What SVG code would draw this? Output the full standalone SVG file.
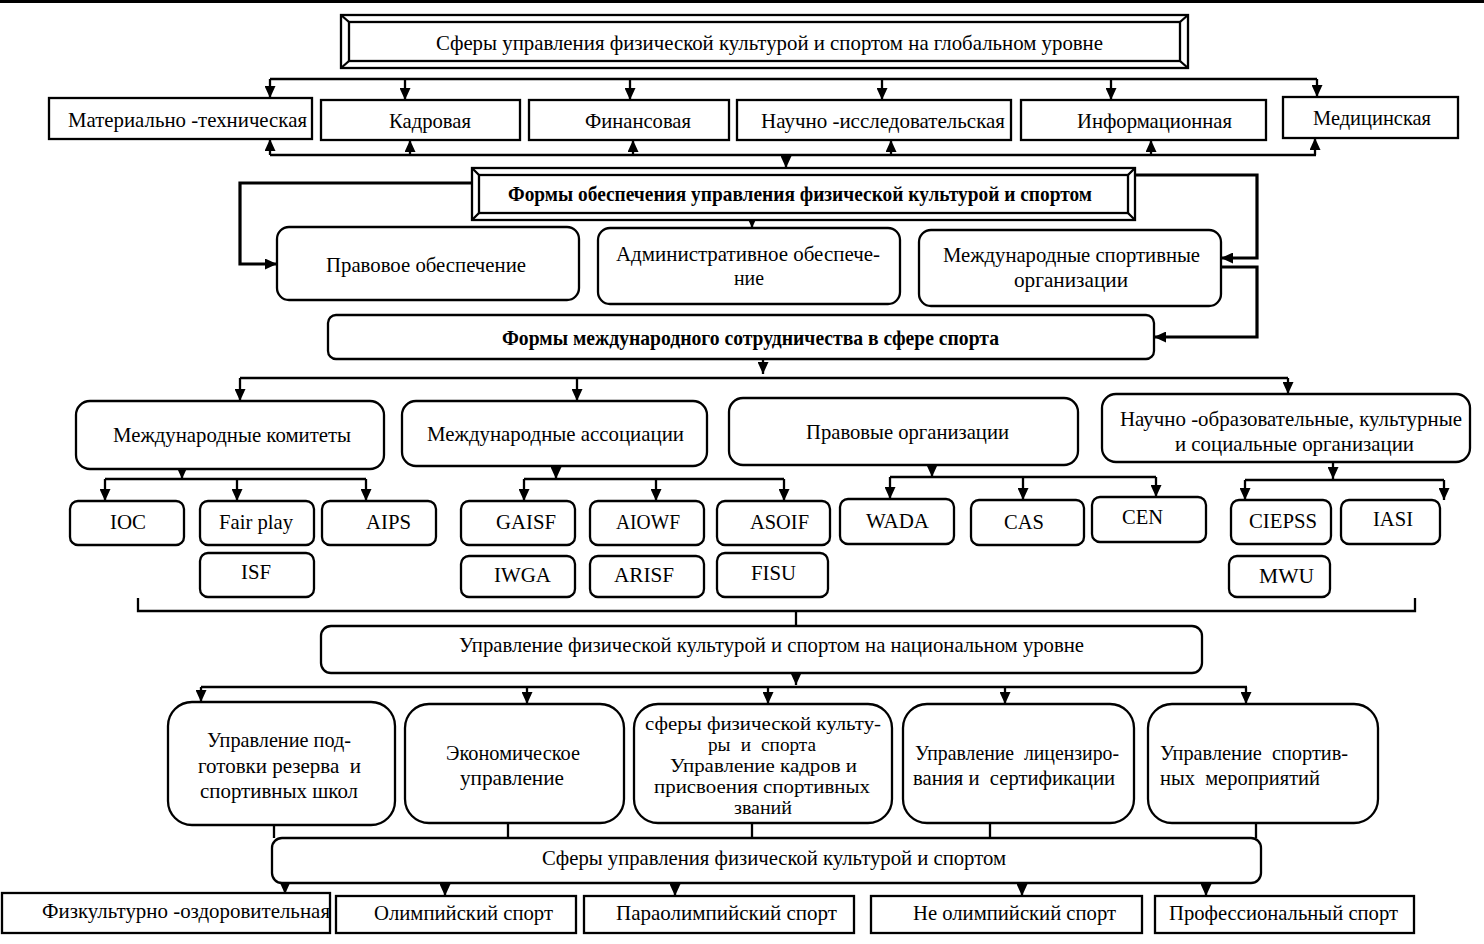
<svg xmlns="http://www.w3.org/2000/svg" width="1484" height="944" viewBox="0 0 1484 944">
<style>
.b{fill:#fff;stroke:#000;stroke-width:2.3}
.t{font-family:"Liberation Serif","Times New Roman",serif;font-size:21px;fill:#000}
.s{font-size:18px}
.bo{font-weight:bold}
.c{fill:none;stroke:#000;stroke-width:2.3}
.k{stroke-width:3.2}
.a{marker-end:url(#ar)}
</style>
<defs>
<marker id="ar" viewBox="0 0 12 11" refX="12" refY="5.5" markerWidth="12" markerHeight="11" markerUnits="userSpaceOnUse" orient="auto">
<path d="M0,0 L12,5.5 L0,11 z" fill="#000"/>
</marker>
</defs>
<rect width="1484" height="944" fill="#fff"/>
<line x1="0" y1="1.5" x2="1484" y2="1.5" stroke="#000" stroke-width="3"/>

<g id="connectors">
<path class="c" d="M270,79 H1317"/>
<path class="c a" d="M270,79 V98"/>
<path class="c a" d="M405,79 V100"/>
<path class="c a" d="M630,79 V100"/>
<path class="c a" d="M882,79 V100"/>
<path class="c a" d="M1111,79 V100"/>
<path class="c a" d="M1317,79 V97"/>
<path class="c" d="M270,155 H1316"/>
<path class="c a" d="M270,155 V139"/>
<path class="c a" d="M410,155 V140"/>
<path class="c a" d="M633,155 V140"/>
<path class="c a" d="M891,155 V140"/>
<path class="c a" d="M1151,155 V140"/>
<path class="c a" d="M1315,155 V138"/>
<path class="c a" d="M786,155 V168"/>
<path class="c k a" d="M472,183 H240 V264 H277"/>
<path class="c k a" d="M1065,175 H1257 V258 H1221"/>
<path class="c k a" d="M1221,267 H1257 V337 H1154"/>
<path class="c a" d="M752,218 V228"/>
<path class="c a" d="M763,359 V374"/>
<path class="c" d="M240,378 H1288"/>
<path class="c a" d="M240,378 V401"/>
<path class="c a" d="M577,378 V401"/>
<path class="c a" d="M1288,378 V394"/>
<path class="c a" d="M182,469 V479"/>
<path class="c" d="M105,479 H366"/>
<path class="c a" d="M105,479 V501"/>
<path class="c a" d="M237,479 V501"/>
<path class="c a" d="M366,479 V501"/>
<path class="c a" d="M556,466 V479"/>
<path class="c" d="M524,479 H784"/>
<path class="c a" d="M524,479 V501"/>
<path class="c a" d="M656,479 V501"/>
<path class="c a" d="M784,479 V501"/>
<path class="c a" d="M932,465 V477"/>
<path class="c" d="M890,477 H1156"/>
<path class="c a" d="M890,477 V499"/>
<path class="c a" d="M1023,477 V500"/>
<path class="c a" d="M1156,477 V497"/>
<path class="c a" d="M1333,462 V479"/>
<path class="c" d="M1245,480 H1444"/>
<path class="c a" d="M1245,480 V500"/>
<path class="c a" d="M1444,480 V500"/>
<path class="c" d="M138,598 V611 H1415 V598"/>
<path class="c" d="M796,611 V626"/>
<path class="c a" d="M796,673 V685"/>
<path class="c" d="M201,687 H1247"/>
<path class="c a" d="M201,687 V702"/>
<path class="c a" d="M527,687 V704"/>
<path class="c a" d="M768,687 V704"/>
<path class="c a" d="M1005,687 V704"/>
<path class="c a" d="M1246,687 V704"/>
<path class="c" d="M274,825 V838 M508,823 V838 M752,823 V838 M990,823 V838 M1256,823 V838"/>
<path class="c a" d="M285,883 V894"/>
<path class="c a" d="M445,883 V896"/>
<path class="c a" d="M675,883 V896"/>
<path class="c a" d="M1022,883 V896"/>
<path class="c a" d="M1206,883 V896"/>
</g>

<g id="global">
<rect class="b" x="341" y="15" width="847" height="53"/>
<rect class="b" x="349" y="22" width="831" height="39"/>
<path class="c" d="M341,15 L349,22 M1188,15 L1180,22 M341,68 L349,61 M1188,68 L1180,61"/>
<text class="t" x="436" y="50" textLength="667" lengthAdjust="spacingAndGlyphs">Сферы управления физической культурой и спортом на глобальном уровне</text>
</g>

<g id="material">
<rect class="b" x="49" y="98" width="263" height="41"/>
<text class="t" x="68" y="127" textLength="239" lengthAdjust="spacingAndGlyphs">Материально -техническая</text>
</g>
<g id="kadr">
<rect class="b" x="321" y="100" width="199" height="40"/>
<text class="t" x="389" y="128" textLength="82" lengthAdjust="spacingAndGlyphs">Кадровая</text>
</g>
<g id="fin">
<rect class="b" x="529" y="100" width="200" height="40"/>
<text class="t" x="585" y="128" textLength="106" lengthAdjust="spacingAndGlyphs">Финансовая</text>
</g>
<g id="nauch">
<rect class="b" x="737" y="100" width="274" height="40"/>
<text class="t" x="761" y="128" textLength="244" lengthAdjust="spacingAndGlyphs">Научно -исследовательская</text>
</g>
<g id="inform">
<rect class="b" x="1021" y="100" width="245" height="40"/>
<text class="t" x="1077" y="128" textLength="155" lengthAdjust="spacingAndGlyphs">Информационная</text>
</g>
<g id="med">
<rect class="b" x="1283" y="97" width="175" height="41"/>
<text class="t" x="1313" y="125" textLength="118" lengthAdjust="spacingAndGlyphs">Медицинская</text>
</g>

<g id="forms">
<rect class="b" x="472" y="168" width="663" height="52"/>
<rect class="b" x="479" y="175" width="649" height="38"/>
<path class="c" d="M472,168 L479,175 M1135,168 L1128,175 M472,220 L479,213 M1135,220 L1128,213"/>
<text class="t bo" x="508" y="201" textLength="584" lengthAdjust="spacingAndGlyphs">Формы обеспечения управления физической культурой и спортом</text>
</g>

<g id="pravo">
<rect class="b" x="277" y="227" width="302" height="73" rx="12"/>
<text class="t" x="326" y="272" textLength="200" lengthAdjust="spacingAndGlyphs">Правовое обеспечение</text>
</g>
<g id="admin">
<rect class="b" x="598" y="228" width="302" height="76" rx="12"/>
<text class="t" x="616" y="261" textLength="264" lengthAdjust="spacingAndGlyphs">Административное обеспече-</text>
<text class="t" x="734" y="285" textLength="30" lengthAdjust="spacingAndGlyphs">ние</text>
</g>
<g id="mso">
<rect class="b" x="919" y="230" width="302" height="76" rx="12"/>
<text class="t" x="943" y="262" textLength="257" lengthAdjust="spacingAndGlyphs">Международные спортивные</text>
<text class="t" x="1014" y="287" textLength="114" lengthAdjust="spacingAndGlyphs">организации</text>
</g>

<g id="coop">
<rect class="b" x="328" y="315" width="826" height="44" rx="8"/>
<text class="t bo" x="502" y="345" textLength="497" lengthAdjust="spacingAndGlyphs">Формы международного сотрудничества в сфере спорта</text>
</g>

<g id="committees">
<rect class="b" x="76" y="401" width="308" height="68" rx="14"/>
<text class="t" x="113" y="442" textLength="238" lengthAdjust="spacingAndGlyphs">Международные комитеты</text>
</g>
<g id="assoc">
<rect class="b" x="402" y="401" width="305" height="65" rx="14"/>
<text class="t" x="427" y="441" textLength="257" lengthAdjust="spacingAndGlyphs">Международные ассоциации</text>
</g>
<g id="legal">
<rect class="b" x="729" y="398" width="349" height="67" rx="14"/>
<text class="t" x="806" y="439" textLength="203" lengthAdjust="spacingAndGlyphs">Правовые организации</text>
</g>
<g id="science">
<rect class="b" x="1102" y="394" width="368" height="68" rx="14"/>
<text class="t" x="1120" y="426" textLength="342" lengthAdjust="spacingAndGlyphs">Научно -образовательные, культурные</text>
<text class="t" x="1175" y="451" textLength="239" lengthAdjust="spacingAndGlyphs">и социальные организации</text>
</g>

<g id="ioc"><rect class="b" x="70" y="501" width="114" height="44" rx="8"/><text class="t" x="110" y="529" textLength="36" lengthAdjust="spacingAndGlyphs">IOC</text></g>
<g id="fairplay"><rect class="b" x="200" y="501" width="114" height="44" rx="8"/><text class="t" x="219" y="529" textLength="74" lengthAdjust="spacingAndGlyphs">Fair play</text></g>
<g id="aips"><rect class="b" x="322" y="501" width="114" height="44" rx="8"/><text class="t" x="366" y="529" textLength="45" lengthAdjust="spacingAndGlyphs">AIPS</text></g>
<g id="isf"><rect class="b" x="200" y="553" width="114" height="44" rx="8"/><text class="t" x="241" y="579" textLength="30" lengthAdjust="spacingAndGlyphs">ISF</text></g>
<g id="gaisf"><rect class="b" x="461" y="501" width="114" height="44" rx="8"/><text class="t" x="496" y="529" textLength="60" lengthAdjust="spacingAndGlyphs">GAISF</text></g>
<g id="aiowf"><rect class="b" x="590" y="501" width="114" height="44" rx="8"/><text class="t" x="616" y="529" textLength="64" lengthAdjust="spacingAndGlyphs">AIOWF</text></g>
<g id="asoif"><rect class="b" x="717" y="501" width="113" height="44" rx="8"/><text class="t" x="750" y="529" textLength="59" lengthAdjust="spacingAndGlyphs">ASOIF</text></g>
<g id="iwga"><rect class="b" x="461" y="556" width="114" height="41" rx="8"/><text class="t" x="494" y="582" textLength="57" lengthAdjust="spacingAndGlyphs">IWGA</text></g>
<g id="arisf"><rect class="b" x="590" y="556" width="114" height="41" rx="8"/><text class="t" x="614" y="582" textLength="60" lengthAdjust="spacingAndGlyphs">ARISF</text></g>
<g id="fisu"><rect class="b" x="717" y="553" width="111" height="44" rx="8"/><text class="t" x="751" y="580" textLength="45" lengthAdjust="spacingAndGlyphs">FISU</text></g>
<g id="wada"><rect class="b" x="840" y="499" width="114" height="45" rx="8"/><text class="t" x="866" y="528" textLength="63" lengthAdjust="spacingAndGlyphs">WADA</text></g>
<g id="cas"><rect class="b" x="971" y="500" width="113" height="45" rx="8"/><text class="t" x="1004" y="529" textLength="40" lengthAdjust="spacingAndGlyphs">CAS</text></g>
<g id="cen"><rect class="b" x="1092" y="497" width="114" height="45" rx="8"/><text class="t" x="1122" y="524" textLength="41" lengthAdjust="spacingAndGlyphs">CEN</text></g>
<g id="ciepss"><rect class="b" x="1231" y="500" width="100" height="44" rx="8"/><text class="t" x="1249" y="528" textLength="68" lengthAdjust="spacingAndGlyphs">CIEPSS</text></g>
<g id="iasi"><rect class="b" x="1341" y="500" width="99" height="44" rx="8"/><text class="t" x="1373" y="526" textLength="40" lengthAdjust="spacingAndGlyphs">IASI</text></g>
<g id="mwu"><rect class="b" x="1229" y="556" width="101" height="41" rx="8"/><text class="t" x="1259" y="583" textLength="55" lengthAdjust="spacingAndGlyphs">MWU</text></g>

<g id="national">
<rect class="b" x="321" y="626" width="881" height="47" rx="10"/>
<text class="t" x="459" y="652" textLength="625" lengthAdjust="spacingAndGlyphs">Управление физической культурой и спортом на национальном уровне</text>
</g>

<g id="reserve">
<rect class="b" x="168" y="702" width="227" height="123" rx="24"/>
<text class="t" x="207" y="747" textLength="144" lengthAdjust="spacingAndGlyphs">Управление под-</text>
<text class="t" x="198" y="773" textLength="163" lengthAdjust="spacingAndGlyphs" xml:space="preserve">готовки резерва  и</text>
<text class="t" x="200" y="798" textLength="158" lengthAdjust="spacingAndGlyphs">спортивных школ</text>
</g>
<g id="econ">
<rect class="b" x="405" y="704" width="219" height="119" rx="24"/>
<text class="t" x="446" y="760" textLength="134" lengthAdjust="spacingAndGlyphs">Экономическое</text>
<text class="t" x="460" y="785" textLength="104" lengthAdjust="spacingAndGlyphs">управление</text>
</g>
<g id="personnel">
<rect class="b" x="634" y="704" width="258" height="119" rx="24"/>
<text class="t s" x="645" y="730" textLength="236" lengthAdjust="spacingAndGlyphs">сферы физической культу-</text>
<text class="t s" x="708" y="751" word-spacing="5" textLength="108" lengthAdjust="spacingAndGlyphs">ры и спорта</text>
<text class="t s" x="670" y="772" textLength="187" lengthAdjust="spacingAndGlyphs">Управление кадров и</text>
<text class="t s" x="654" y="793" textLength="216" lengthAdjust="spacingAndGlyphs">присвоения спортивных</text>
<text class="t s" x="734" y="814" textLength="58" lengthAdjust="spacingAndGlyphs">званий</text>
</g>
<g id="license">
<rect class="b" x="903" y="704" width="231" height="119" rx="24"/>
<text class="t" x="915" y="760" textLength="204" lengthAdjust="spacingAndGlyphs" xml:space="preserve">Управление  лицензиро-</text>
<text class="t" x="913" y="785" textLength="202" lengthAdjust="spacingAndGlyphs" xml:space="preserve">вания и  сертификации</text>
</g>
<g id="events">
<rect class="b" x="1148" y="704" width="230" height="119" rx="24"/>
<text class="t" x="1160" y="760" textLength="188" lengthAdjust="spacingAndGlyphs" xml:space="preserve">Управление  спортив-</text>
<text class="t" x="1160" y="785" textLength="160" lengthAdjust="spacingAndGlyphs" xml:space="preserve">ных  мероприятий</text>
</g>

<g id="spheres">
<rect class="b" x="272" y="838" width="989" height="45" rx="10"/>
<text class="t" x="542" y="865" textLength="464" lengthAdjust="spacingAndGlyphs">Сферы управления физической культурой и спортом</text>
</g>

<g id="fitness"><rect class="b" x="2" y="893" width="328" height="40"/><text class="t" x="42" y="918" textLength="288" lengthAdjust="spacingAndGlyphs">Физкультурно -оздоровительная</text></g>
<g id="olymp"><rect class="b" x="336" y="896" width="240" height="37"/><text class="t" x="374" y="920" textLength="179" lengthAdjust="spacingAndGlyphs">Олимпийский спорт</text></g>
<g id="para"><rect class="b" x="584" y="896" width="270" height="37"/><text class="t" x="616" y="920" textLength="221" lengthAdjust="spacingAndGlyphs">Параолимпийский спорт</text></g>
<g id="nonolymp"><rect class="b" x="871" y="896" width="271" height="37"/><text class="t" x="913" y="920" textLength="203" lengthAdjust="spacingAndGlyphs">Не олимпийский спорт</text></g>
<g id="prof"><rect class="b" x="1155" y="896" width="259" height="37"/><text class="t" x="1169" y="920" textLength="229" lengthAdjust="spacingAndGlyphs">Профессиональный спорт</text></g>
</svg>
